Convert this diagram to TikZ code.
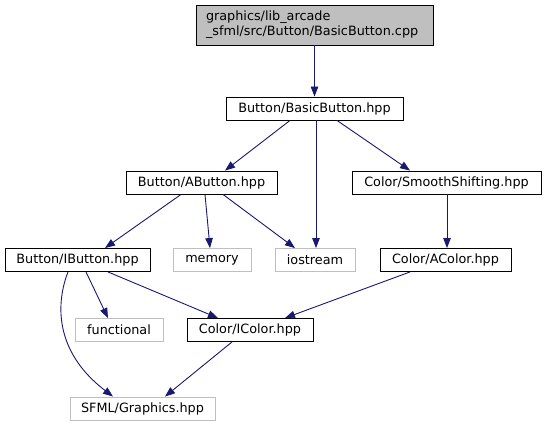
\documentclass[tikz,border=0pt]{standalone}
\usepackage{fontspec}
\setmainfont{DejaVu Sans}
\usetikzlibrary{arrows.meta}
\definecolor{edgeblue}{HTML}{191970}
\definecolor{rootfill}{HTML}{BFBFBF}
\definecolor{sysgray}{HTML}{BFBFBF}
\begin{document}
\begin{tikzpicture}[x=1pt,y=-1pt,
  box/.style={draw=black,line width=0.9pt,inner sep=0pt,minimum height=23pt,font=\fontsize{12.8}{15}\selectfont},
  sysbox/.style={box,draw=sysgray},
  edge/.style={draw=edgeblue,line width=0.9pt,-{Triangle[length=10pt,width=7.5pt]}}]
\useasboundingbox (0,0) rectangle (546,425);
% nodes
\node[box,fill=rootfill,minimum width=237pt,minimum height=40pt,text width=217pt,inner xsep=10pt,align=left] (root) at (314.5,25)
  {graphics/lib\_arcade\\\_sfml/src/Button/BasicButton.cpp};
\node[box,minimum width=177pt] (basic) at (314.5,108.5) {Button/BasicButton.hpp};
\node[box,minimum width=151pt] (abutton) at (201.5,182.5) {Button/AButton.hpp};
\node[box,minimum width=189pt] (smooth) at (446.5,182.5) {Color/SmoothShifting.hpp};
\node[box,minimum width=145pt] (ibutton) at (77.5,260) {Button/IButton.hpp};
\node[sysbox,minimum width=78pt] (memory) at (212,260) {memory};
\node[sysbox,minimum width=80pt] (iostream) at (315,260) {iostream};
\node[box,minimum width=131pt] (acolor) at (445.5,260) {Color/AColor.hpp};
\node[sysbox,minimum width=88pt] (functional) at (119,330) {functional};
\node[box,minimum width=126pt] (icolor) at (250,330) {Color/IColor.hpp};
\node[sysbox,minimum width=145pt] (sfml) at (142.5,408.5) {SFML/Graphics.hpp};
% edges
\draw[edge] (root.south) -- (basic.north);
\draw[edge] ([xshift=-24.5pt]basic.south) -- ([xshift=23.5pt]abutton.north);
\draw[edge] ([xshift=1.5pt]basic.south) -- ([xshift=1pt]iostream.north);
\draw[edge] ([xshift=22.5pt]basic.south) -- ([xshift=-36.5pt]smooth.north);
\draw[edge] ([xshift=-20.5pt]abutton.south) -- ([xshift=27.5pt]ibutton.north);
\draw[edge] ([xshift=3.5pt]abutton.south) -- ([xshift=-2pt]memory.north);
\draw[edge] ([xshift=21.5pt]abutton.south) -- ([xshift=-20pt]iostream.north);
\draw[edge] ([xshift=0.5pt]smooth.south) -- ([xshift=1.5pt]acolor.north);
\draw[edge] ([xshift=8.5pt]ibutton.south) -- ([xshift=-11pt]functional.north);
\draw[edge] ([xshift=30.5pt]ibutton.south) -- ([xshift=-32pt]icolor.north);
\draw[edge] ([xshift=-9.5pt]ibutton.south) .. controls (57,300) and (52,350) .. ([xshift=-29.5pt]sfml.north);
\draw[edge] ([xshift=-35.5pt]acolor.south) -- ([xshift=35pt]icolor.north);
\draw[edge] ([xshift=-18pt]icolor.south) -- ([xshift=22.5pt]sfml.north);
\end{tikzpicture}
\end{document}
